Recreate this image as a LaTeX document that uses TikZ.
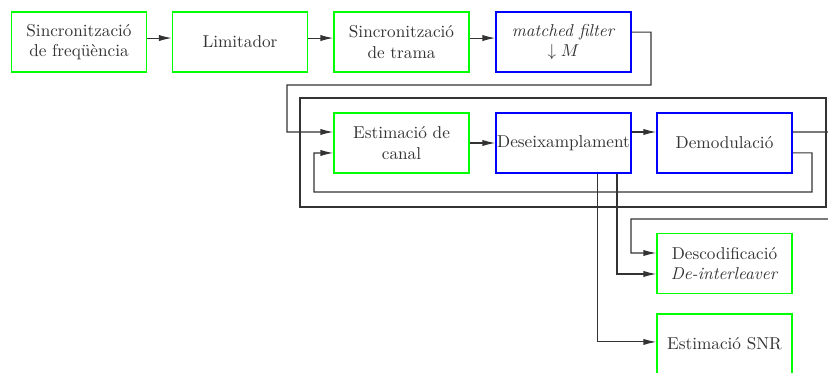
\documentclass[tikz,border=0pt]{standalone}
\usetikzlibrary{arrows.meta}
\definecolor{boxgreen}{RGB}{0,255,0}
\definecolor{boxblue}{RGB}{0,0,255}
\begin{document}
\begin{tikzpicture}[x=0.5814pt,y=-0.5814pt,
  blk/.style={draw, line width=0.9pt, minimum width=78.5pt, minimum height=35pt,
              inner xsep=0pt, inner ysep=2pt, align=center, text=black!80},
  gblk/.style={blk, draw=boxgreen},
  bblk/.style={blk, draw=boxblue},
  ln/.style={line width=0.6pt, draw=black!80},
  arr/.style={ln, -{Latex[length=7.4pt,width=3.6pt]}}]
\useasboundingbox (0,0) rectangle (828,373);
\clip (0,0) rectangle (828,373);

% first chain
\node[gblk] (sf)  at (79,42)    {Sincronització\\de freqüència};
\node[gblk] (lim) at (240,42)   {Limitador};
\node[gblk] (st)  at (401.5,42) {Sincronització\\de trama};
\node[bblk] (mf)  at (563.5,42) {\textit{matched filter}\\$\downarrow M$};

% inner loop
\node[gblk] (ec) at (401.5,143) {Estimació de\\canal};
\node[bblk] (dx) at (563.5,143) {Deseixamplament};
\node[bblk] (dm) at (724.5,143) {Demodulació};

% outputs
\node[gblk] (dc)  at (724.5,263.5) {Descodificació\\\textit{De-interleaver}};
\node[gblk] (snr) at (724.5,344)   {Estimació SNR};

\coordinate (outR) at (845,132);
\coordinate (inR)  at (845,219);

% frame around the loop
\draw[ln] (300,98) rectangle (826,207);

\draw[arr] ([yshift=2.3pt]sf.east)  -- ([yshift=2.3pt]lim.west);
\draw[arr] ([yshift=2.3pt]lim.east) -- ([yshift=2.3pt]st.west);
\draw[arr] ([yshift=2.3pt]st.east)  -- ([yshift=2.3pt]mf.west);

\draw[arr] ([yshift=5.8pt]mf.east) -| (651,85) -| (287,132) -- ([yshift=6.4pt]ec.west);
\draw[arr] (ec.east) -- (dx.west);
\draw[arr] ([yshift=6.4pt]dx.east) -- ([yshift=6.4pt]dm.west);
\draw[ln]  ([yshift=6.4pt]dm.east) -- (outR);
\draw[arr] ([yshift=-5.8pt]dm.east) -| (812,192) -| (314,153) -- ([yshift=-5.8pt]ec.west);

\draw[arr] ([xshift=31.1pt]dx.south) |- ([yshift=-6.1pt]dc.west);
\draw[arr] ([xshift=19.5pt]dx.south) |- ([yshift=1.2pt]snr.west);
\draw[arr] (inR) -| (631,253) -- ([yshift=6.1pt]dc.west);
\end{tikzpicture}
\end{document}
